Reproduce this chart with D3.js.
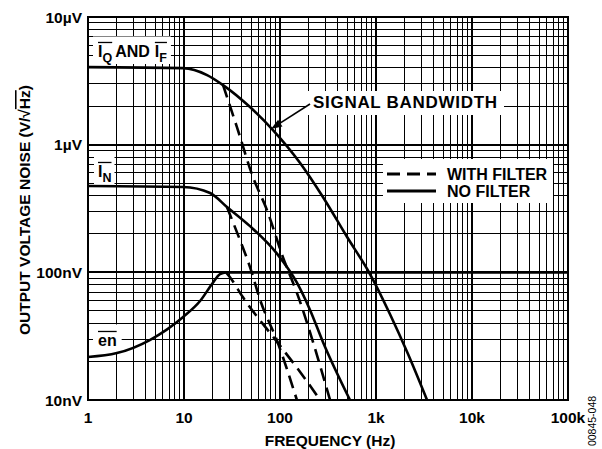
<!DOCTYPE html>
<html>
<head>
<meta charset="utf-8">
<script src="https://cdn.jsdelivr.net/npm/d3@7"></script>
<style>
  body { margin: 0; background: #fff; }
  text { font-family: "Liberation Sans", Arial, sans-serif; font-weight: bold; fill: #000; }
</style>
</head>
<body>
<div id="chart"></div>
<script>
// ---- data (frequency in Hz, noise in nV/rtHz) ----
var xTickVals = [1, 10, 100, 1000, 10000, 100000];
var xTickLabels = ["1", "10", "100", "1k", "10k", "100k"];
var yTickVals = [10, 100, 1000, 10000];
var yTickLabels = ["10nV", "100nV", "1µV", "10µV"];

// I_Q and I_F, no filter
var iqFreq  = [1, 9.8, 17.4, 25.5, 48.7, 84.5, 162, 280, 500, 866, 1400, 2150, 3400];
var iqNoise = [4050, 3980, 3510, 2930, 1970, 1300, 718, 389, 189, 97, 47, 23, 10];
// I_Q and I_F, with filter
var iqfFreq  = [25.5, 35.6, 52.3, 73.2, 107, 150, 332];
var iqfNoise = [2930, 1373, 557, 307, 132, 69, 10];

// I_N, no filter
var inFreq  = [1, 9.8, 18.7, 28, 48.7, 93, 150, 205, 280, 536];
var inNoise = [474, 466, 418, 325, 230, 140, 83, 51, 28.5, 10];
// I_N, with filter
var infFreq  = [28, 38.3, 48.7, 62, 95, 150];
var infNoise = [325, 179, 110, 61, 28, 10];

// en, no filter
var enFreq  = [1, 2, 4.4, 9.8, 14.7, 19.6, 23.7, 27.4, 100000];
var enNoise = [21.7, 23.3, 29.5, 44.7, 59.6, 81, 97, 100, 100];
// en, with filter
var enfFreq  = [27.4, 30, 41, 95, 162, 261];
var enfNoise = [100, 92, 64, 28, 16.6, 10];

var width = 602, height = 449;

var svg = d3.select("#chart")
            .append("svg")
            .attr("width", width)
            .attr("height", height);

var x = d3.scaleLog().domain([1, 100000]).range([88, 568]);
var y = d3.scaleLog().domain([10, 10000]).range([400, 17]);

function isMajor(v) { return Math.abs(Math.log10(v) - Math.round(Math.log10(v))) < 1e-6; }

/*---------------- grid ----------------*/
var grid = svg.append("g").attr("shape-rendering", "crispEdges");

grid.selectAll(".vx")
    .data(x.ticks())
    .enter().append("line")
    .attr("x1", function(d) { return x(d); })
    .attr("x2", function(d) { return x(d); })
    .attr("y1", y(10000))
    .attr("y2", y(10))
    .attr("stroke", "#000")
    .attr("stroke-width", function(d) { return isMajor(d) ? 2 : 1; });

grid.selectAll(".hy")
    .data(y.ticks())
    .enter().append("line")
    .attr("x1", x(1))
    .attr("x2", x(100000))
    .attr("y1", function(d) { return y(d); })
    .attr("y2", function(d) { return y(d); })
    .attr("stroke", "#000")
    .attr("stroke-width", function(d) { return isMajor(d) ? 2 : 1; });

grid.append("rect")
    .attr("x", x(1)).attr("y", y(10000))
    .attr("width", x(100000) - x(1)).attr("height", y(10) - y(10000))
    .attr("fill", "none").attr("stroke", "#000").attr("stroke-width", 2);

/*---------------- tick labels ----------------*/
svg.selectAll(".xl")
   .data(xTickVals)
   .enter().append("text")
   .attr("x", function(d) { return x(d); })
   .attr("y", 423)
   .attr("text-anchor", "middle")
   .style("font-size", "15.5px")
   .text(function(d, i) { return xTickLabels[i]; });

svg.selectAll(".yl")
   .data(yTickVals)
   .enter().append("text")
   .attr("x", 82)
   .attr("y", function(d) { return y(d) + 5.5; })
   .attr("text-anchor", "end")
   .style("font-size", "15.5px")
   .text(function(d, i) { return yTickLabels[i]; });

svg.append("text")
   .attr("x", 330).attr("y", 446)
   .attr("text-anchor", "middle")
   .style("font-size", "15.5px")
   .text("FREQUENCY (Hz)");

var yt = svg.append("text")
   .attr("transform", "translate(30,210) rotate(-90)")
   .attr("text-anchor", "middle")
   .style("font-size", "15.5px");
yt.append("tspan").text("OUTPUT VOLTAGE NOISE (V/√");
yt.append("tspan").style("text-decoration", "overline").text("Hz");
yt.append("tspan").text(")");

svg.append("text")
   .attr("transform", "translate(596,421) rotate(-90)")
   .attr("text-anchor", "middle")
   .style("font-size", "10.5px")
   .style("font-weight", "normal")
   .text("00845-048");

/*---------------- labels with overlines ----------------*/
function overLabel(parts, x0, base, fs, subFs, pad) {
  var g = svg.append("g");
  var box = g.append("rect").attr("fill", "#fff");
  var cx = x0;
  parts.forEach(function(p) {
    cx += p.gap || 0;
    var start = cx;
    var t = g.append("text").attr("x", cx).attr("y", base)
             .style("font-size", fs + "px").text(p.t);
    cx += t.node().getComputedTextLength();
    if (p.sub) {
      var s = g.append("text").attr("x", cx).attr("y", base + 5)
               .style("font-size", subFs + "px").text(p.sub);
      cx += s.node().getComputedTextLength();
    }
    if (p.over) {
      g.append("line")
       .attr("x1", start).attr("x2", cx)
       .attr("y1", base - fs * 0.72 - 3).attr("y2", base - fs * 0.72 - 3)
       .attr("stroke", "#000").attr("stroke-width", 1.3);
    }
  });
  box.attr("x", x0 - pad[0]).attr("y", base - fs * 0.72 - pad[1])
     .attr("width", cx - x0 + pad[0] + pad[2])
     .attr("height", fs * 0.72 + pad[1] + pad[3]);
  return g;
}

overLabel([{t: "I", sub: "Q", over: true}, {t: "AND", gap: 3}, {t: "I", sub: "F", over: true, gap: 5}],
          98, 57, 16, 12.5, [5, 9, 4, 7]);
overLabel([{t: "I", sub: "N", over: true}], 98, 177, 16, 12.5, [4, 9, 3, 7]);
overLabel([{t: "en", over: true}], 98, 346, 16, 12.5, [5, 10, 5, 6]);

/*---------------- signal bandwidth callout ----------------*/
var sb = svg.append("g");
sb.append("rect").attr("fill", "#fff")
  .attr("x", 306).attr("y", 91).attr("width", 198).attr("height", 24);
sb.append("text").attr("x", 313).attr("y", 108)
  .style("font-size", "17px")
  .attr("textLength", 184)
  .text("SIGNAL BANDWIDTH");

var ax0 = 310, ay0 = 104, ax1 = 271, ay1 = 129;
var ang = Math.atan2(ay1 - ay0, ax1 - ax0);
sb.append("line")
  .attr("x1", ax0).attr("y1", ay0)
  .attr("x2", ax1 - 8 * Math.cos(ang)).attr("y2", ay1 - 8 * Math.sin(ang))
  .attr("stroke", "#000").attr("stroke-width", 1.6);
var hl = 11, hw = 4;
sb.append("path")
  .attr("d", "M" + ax1 + "," + ay1 +
        "L" + (ax1 - hl * Math.cos(ang) + hw * Math.sin(ang)) + "," + (ay1 - hl * Math.sin(ang) - hw * Math.cos(ang)) +
        "L" + (ax1 - hl * Math.cos(ang) - hw * Math.sin(ang)) + "," + (ay1 - hl * Math.sin(ang) + hw * Math.cos(ang)) + "Z")
  .attr("fill", "#000");

/*---------------- legend ----------------*/
var leg = svg.append("g");
leg.append("rect").attr("x", 383).attr("y", 159).attr("width", 170).attr("height", 44).attr("fill", "#fff");
leg.append("line").attr("x1", 387).attr("x2", 436).attr("y1", 174).attr("y2", 174)
   .attr("stroke", "#000").attr("stroke-width", 3).attr("stroke-dasharray", "13,7");
leg.append("line").attr("x1", 387).attr("x2", 436).attr("y1", 191).attr("y2", 191)
   .attr("stroke", "#000").attr("stroke-width", 3);
leg.append("text").attr("x", 447).attr("y", 180).style("font-size", "16px").text("WITH FILTER");
leg.append("text").attr("x", 447).attr("y", 197).style("font-size", "16px").text("NO FILTER");

/*---------------- curves ----------------*/
var line = d3.line()
             .x(function(d) { return x(d[0]); })
             .y(function(d) { return y(d[1]); })
             .curve(d3.curveMonotoneX);

var curves = [
  {f: iqFreq,  v: iqNoise,  dash: null},
  {f: inFreq,  v: inNoise,  dash: null},
  {f: enFreq,  v: enNoise,  dash: null},
  {f: iqfFreq, v: iqfNoise, dash: "13,7"},
  {f: infFreq, v: infNoise, dash: "13,7"},
  {f: enfFreq, v: enfNoise, dash: "13,7"}
];

svg.append("g").selectAll("path")
   .data(curves)
   .enter().append("path")
   .attr("d", function(c) { return line(c.f.map(function(f, i) { return [f, c.v[i]]; })); })
   .attr("fill", "none")
   .attr("stroke", "#000")
   .attr("stroke-width", 2.6)
   .attr("stroke-dasharray", function(c) { return c.dash; });
</script>
</body>
</html>
